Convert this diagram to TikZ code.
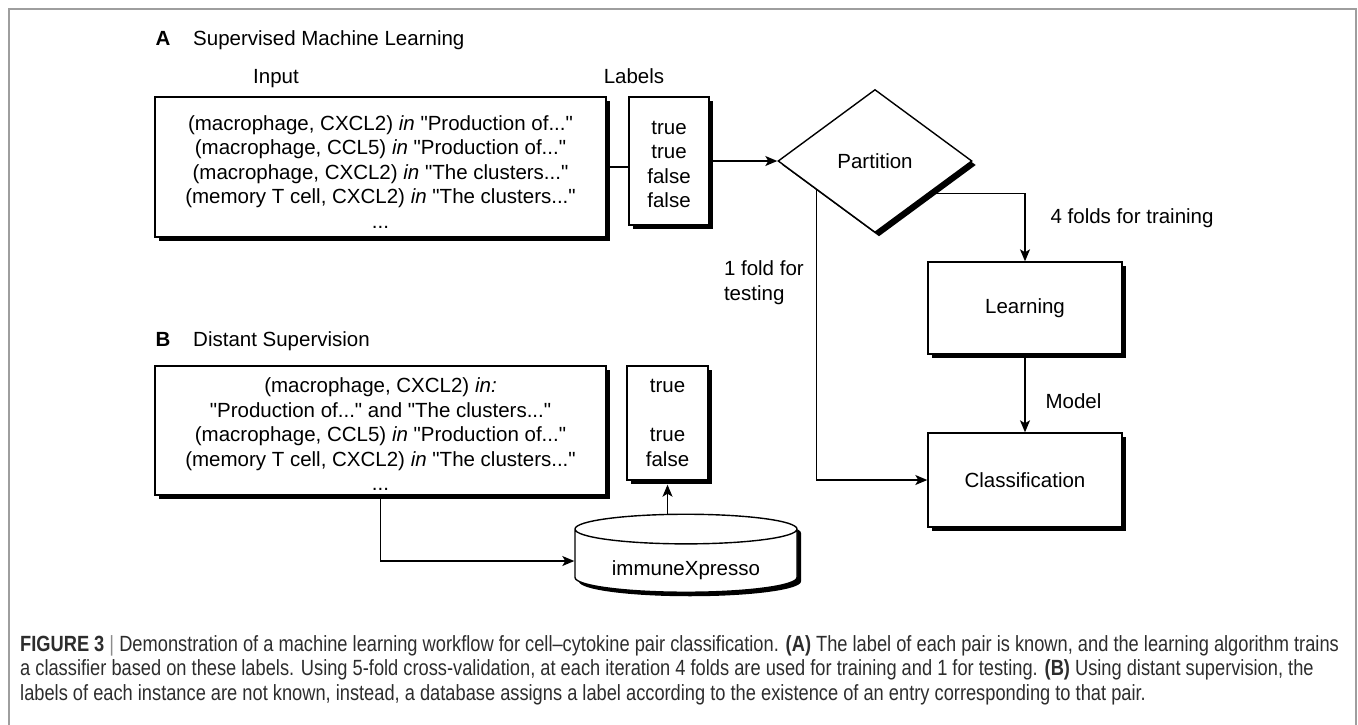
\documentclass[tikz,border=0pt]{standalone}
\usepackage{fontspec}
\setmainfont{Liberation Sans}[Ligatures=TeXOff]
\newfontfamily\capfont[FakeStretch=0.83]{Liberation Sans}
\usepackage{tikz}
\usetikzlibrary{shapes.geometric, positioning, arrows.meta, shadows, calc}
\definecolor{FrameGray}{RGB}{158,158,158}
\definecolor{CapGray}{RGB}{45,45,45}
\definecolor{BarGray}{RGB}{140,140,140}

\begin{document}
\begin{tikzpicture}[x=1pt, y=-1pt,
      every node/.style={inner sep=0pt, font=\fontsize{20.5}{24.5}\selectfont},
      shade/.style={drop shadow={shadow xshift=4pt, shadow yshift=-4pt,
                                 fill=black, opacity=1}},
      sbox/.style={rectangle, draw, line width=1.4pt, fill=white,
                   align=center, shade},
      conn/.style={line width=1.2pt},
      arr/.style={conn, -{Stealth[length=12pt, width=10pt, inset=3pt]}}
    ]
    \useasboundingbox (0,0) rectangle (1358,724);
    \draw[FrameGray, line width=2pt] (9,730) -- (9,9) -- (1356,9) -- (1356,730);

    % panel A: supervised learning
    \node[anchor=base, font=\fontsize{20.5}{24.5}\selectfont\bfseries] (tagA) at (163,45) {A};
    \node[anchor=base west] (headA) at (193,45) {Supervised Machine Learning};
    \node[anchor=base] (inhead)  at (276,83) {Input};
    \node[anchor=base] (labhead) at (634,83) {Labels};

    \node[sbox, minimum width=451pt, minimum height=140pt] (inA) at (380.5,167)
          {\rule{0pt}{24pt}(macrophage, CXCL2) \textit{in} "Production of..."\\
           (macrophage, CCL5) \textit{in} "Production of..."\\
           (macrophage, CXCL2) \textit{in} "The clusters..."\\
           (memory T cell, CXCL2) \textit{in} "The clusters..."\\
           ...};
    \node[sbox, minimum width=80pt, minimum height=128pt] (labA) at (669,161)
          {\rule{0pt}{20pt}true\\true\\false\\false};

    \node[diamond, draw, line width=1.4pt, fill=white, shade,
          minimum width=194pt, minimum height=143pt] (part) at (875,161) {Partition};
    \node[sbox, minimum width=194pt, minimum height=92pt] (learn) at (1025,308) {Learning};
    \node[sbox, minimum width=194pt, minimum height=94pt] (cls)   at (1025,480) {Classification};

    \draw[conn] (inA.east) -- (inA.east -| labA.west);
    \draw[arr] (labA.east) -- (part.west);
    \draw[arr] ($(part.east)!0.45!(part.south)$) -| (learn.north)
          node[pos=0.68, anchor=west, xshift=25pt] (trainlbl) {4 folds for training};
    \draw[arr] ($(part.west)!0.4!(part.south)$) |- (cls.west)
          node[pos=0.16, anchor=east, xshift=-12pt, align=left] (testlbl) {1 fold for\\testing};
    \draw[arr] (learn.south) -- (cls.north)
          node[pos=0.6, anchor=west, xshift=20pt] (modellbl) {Model};

    % panel B: distant supervision
    \node[anchor=base, font=\fontsize{20.5}{24.5}\selectfont\bfseries] (tagB) at (163,346) {B};
    \node[anchor=base west] (headB) at (193,346) {Distant Supervision};

    \node[sbox, minimum width=451pt, minimum height=129pt] (inB) at (380.5,430.5)
          {\rule{0pt}{22pt}(macrophage, CXCL2) \textit{in:}\\
           "Production of..." and "The clusters..."\\
           (macrophage, CCL5) \textit{in} "Production of..."\\
           (memory T cell, CXCL2) \textit{in} "The clusters..."\\
           ...};
    \node[sbox, minimum width=81pt, minimum height=114pt] (labB) at (667.5,423)
          {true\\[24.5pt]true\\false};

    \node[cylinder, draw, line width=1.4pt, fill=white, shade,
          shape border rotate=90, aspect=0.2, text height=30pt, text depth=2pt,
          minimum width=222pt, minimum height=78pt] (dbase) at (686,561) {immuneXpresso};

    \draw[arr] (inB.south) |- (dbase.west);
    \draw[arr, shorten >=4pt] (dbase.north -| labB.south) -- (labB.south);

    % caption
    \node[anchor=north west, align=left, text=CapGray,
          font=\capfont\fontsize{22}{24.5}\selectfont] (caption) at (20,635)
          {\textbf{FIGURE 3} {\color{BarGray}|} Demonstration of a machine learning workflow for cell–cytokine pair classification. \textbf{(A)} The label of each pair is known, and the learning algorithm trains\\
           a classifier based on these labels. Using 5-fold cross-validation, at each iteration 4 folds are used for training and 1 for testing. \textbf{(B)} Using distant supervision, the\\
           labels of each instance are not known, instead, a database assigns a label according to the existence of an entry corresponding to that pair.};
\end{tikzpicture}
\end{document}
